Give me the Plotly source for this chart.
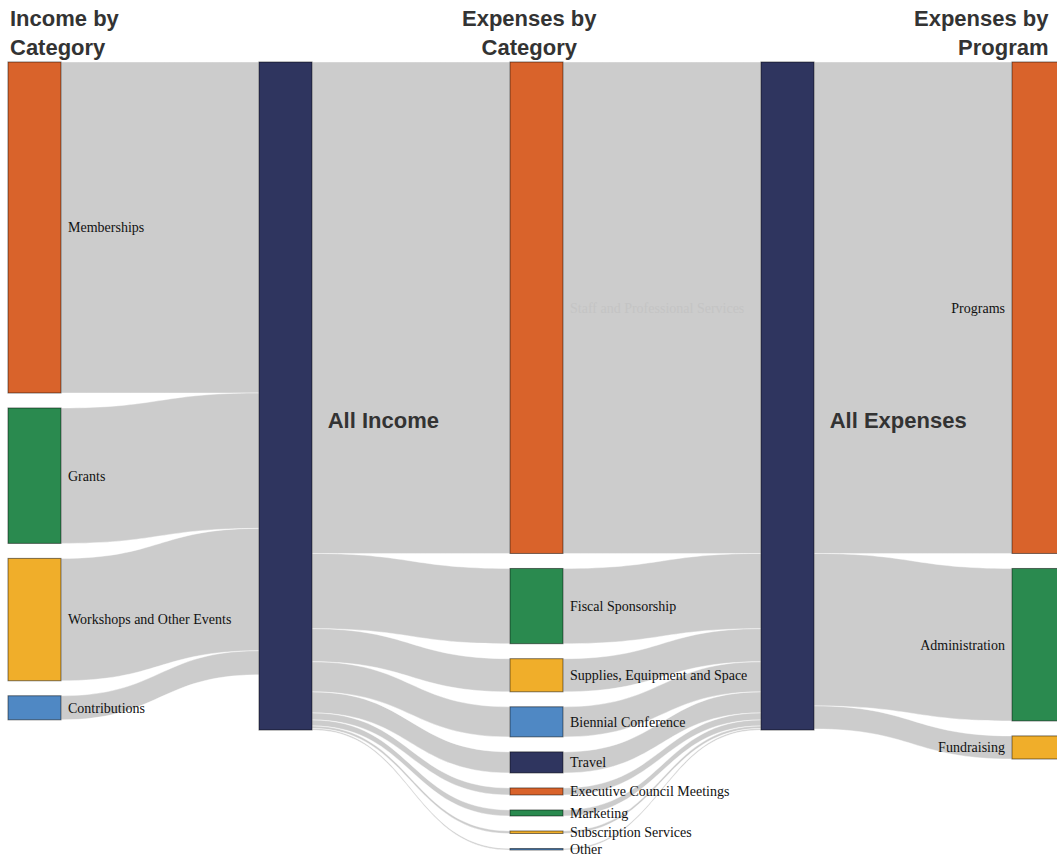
import plotly.graph_objects as go

# ---- data ----
income_categories = ["Memberships", "Grants", "Workshops and Other Events", "Contributions"]
income_values = [33000, 13500, 12200, 2400]

expense_categories = ["Staff and Professional Services", "Fiscal Sponsorship",
                      "Supplies, Equipment and Space", "Biennial Conference", "Travel",
                      "Executive Council Meetings", "Marketing", "Subscription Services", "Other"]
expense_values = [49000, 7500, 3300, 3000, 2100, 700, 600, 250, 150]

program_categories = ["Programs", "Administration", "Fundraising"]
program_values = [49000, 15200, 2300]

titles = ["Income by<br>Category", "Expenses by<br>Category", "Expenses by<br>Program"]

# ---- styling ----
ORANGE, GREEN, YELLOW, BLUE, NAVY = "#D9632B", "#2A8A4F", "#F0AE2A", "#4F88C4", "#2F355F"
cycle_fill = [ORANGE, GREEN, YELLOW, BLUE]

W, H = 1057, 858
M_L, M_T, M_B = 8, 62, 8
THICK, PAD = 53, 15
NB = "\u00a0"


def big(text):
    return ('<br><br><br><span style="font-family:Liberation Sans, Arial;font-size:22px;'
            'color:#333333"><b>%s</b></span>' % (NB * 2 + text))


def small(text, left=True):
    return NB + text if left else text + NB


def faint(text):
    return '<span style="color:#c4c4c4">%s</span>' % (NB + text)


labels, fills, cols, nvals = [], [], [], []


def add_node(label, fill, col, v):
    labels.append(label); fills.append(fill); cols.append(col); nvals.append(v)
    return len(labels) - 1


for i, c in enumerate(income_categories):
    add_node(small(c), cycle_fill[i % 4], 0, income_values[i])
ALL_IN = add_node(big("All Income"), NAVY, 1, max(sum(income_values), sum(expense_values)))
exp_fill_cycle = [ORANGE, GREEN, YELLOW, BLUE, NAVY]
exp_idx = []
for i, c in enumerate(expense_categories):
    exp_idx.append(add_node(faint(c) if i == 0 else small(c), exp_fill_cycle[i % 5], 2,
                            expense_values[i]))
ALL_EX = add_node(big("All Expenses"), NAVY, 3, max(sum(expense_values), sum(program_values)))
prog_idx = []
for i, c in enumerate(program_categories):
    prog_idx.append(add_node(small(c, left=False), cycle_fill[i % 4], 4, program_values[i]))

src, tgt, val = [], [], []
for i, v in enumerate(income_values):
    src.append(i); tgt.append(ALL_IN); val.append(v)
for i, v in enumerate(expense_values):
    src.append(ALL_IN); tgt.append(exp_idx[i]); val.append(v)
for i, v in enumerate(expense_values):
    src.append(exp_idx[i]); tgt.append(ALL_EX); val.append(v)
for i, v in enumerate(program_values):
    src.append(ALL_EX); tgt.append(prog_idx[i]); val.append(v)

# ---- top-aligned layout of each column (derived from the values) ----
plot_w = W - M_L
plot_h = H - M_T - M_B
ncols = max(cols) + 1
ky = min((plot_h - (cols.count(k) - 1) * PAD) / sum(v for v, c in zip(nvals, cols) if c == k)
         for k in range(ncols))
node_x, node_y = [], []
cursor = {k: 0.0 for k in range(ncols)}
for v, c in zip(nvals, cols):
    h = v * ky
    node_y.append(max((cursor[c] + h / 2) / plot_h, 1e-4))
    cursor[c] += h + PAD
    node_x.append((THICK / 2 + c * (W - THICK) / (ncols - 1)) / plot_w)

fig = go.Figure(go.Sankey(
    arrangement="fixed",
    domain=dict(x=[0, 1], y=[0, 1]),
    node=dict(
        label=labels,
        color=fills,
        line=dict(color="rgba(0,0,0,0.5)", width=1),
        thickness=THICK,
        pad=PAD,
        x=node_x,
        y=node_y,
    ),
    link=dict(
        source=src, target=tgt, value=val,
        color="#cccccc",
        line=dict(color="rgba(255,255,255,0.7)", width=0.6),
    ),
    textfont=dict(family="Liberation Serif, Times New Roman, serif", size=14, color="#111111",
                  shadow="none"),
))

title_font = dict(family="Liberation Sans, Arial, sans-serif", size=22, color="#333333")
ty = 1 + (M_T - 4) / plot_h
fig.add_annotation(text="<b>%s</b>" % titles[0], xref="paper", yref="paper", x=0.0, y=ty,
                   xanchor="left", yanchor="top", align="left", showarrow=False, font=title_font)
fig.add_annotation(text="<b>%s</b>" % titles[1], xref="paper", yref="paper", x=0.4976, y=ty,
                   xanchor="center", yanchor="top", align="center", showarrow=False, font=title_font)
fig.add_annotation(text="<b>%s</b>" % titles[2], xref="paper", yref="paper", x=0.9943, y=ty,
                   xanchor="right", yanchor="top", align="right", showarrow=False, font=title_font)

fig.update_layout(
    width=W, height=H,
    margin=dict(l=M_L, r=0, t=M_T, b=M_B),
    paper_bgcolor="white", plot_bgcolor="white",
    font=dict(family="Liberation Serif, serif"),
)

fig.write_html("out.html", config={"displayModeBar": False},
               post_script="document.documentElement.style.overflow='hidden';"
                           "document.body.style.margin='0';")
